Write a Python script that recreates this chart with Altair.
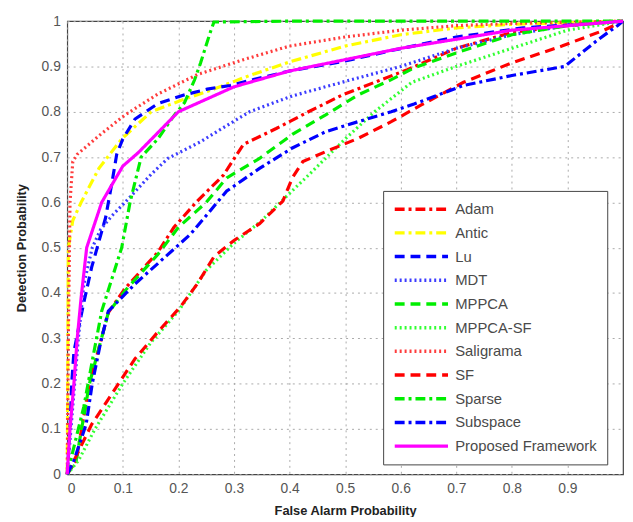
import altair as alt
import pandas as pd

series_names = ["Adam", "Antic", "Lu", "MDT", "MPPCA", "MPPCA-SF", "Saligrama",
                "SF", "Sparse", "Subspace", "Proposed Framework"]
series_colors = ["#ff0000", "#ffff00", "#0000ff", "#3c3cff", "#00ee00", "#33ff33",
                 "#ff3c3c", "#ff0000", "#00ee00", "#0000ff", "#ff00ff"]
series_dash = [[10, 4, 3, 4], [10, 4, 3, 4], [10, 6], [2, 3], [10, 6], [2, 3],
               [2, 3], [10, 6], [10, 4, 3, 4], [10, 4, 3, 4], [1, 0]]

adam_x = [0, 0.016, 0.04, 0.074, 0.104, 0.163, 0.192, 0.234, 0.281, 0.317, 0.376, 0.434, 0.495, 0.553, 0.612, 0.7, 0.8, 0.9, 1.0]
adam_y = [0, 0.03, 0.2, 0.357, 0.41, 0.49, 0.545, 0.603, 0.66, 0.728, 0.763, 0.8, 0.837, 0.865, 0.893, 0.94, 0.975, 0.99, 1.0]

antic_x = [0, 0.002, 0.01, 0.025, 0.057, 0.098, 0.151, 0.211, 0.264, 0.328, 0.4, 0.5, 0.6, 0.7, 0.8, 1.0]
antic_y = [0, 0.5, 0.56, 0.6, 0.675, 0.74, 0.8, 0.828, 0.85, 0.88, 0.91, 0.945, 0.97, 0.985, 0.993, 1.0]

lu_x = [0, 0.005, 0.008, 0.012, 0.02, 0.03, 0.044, 0.069, 0.08, 0.089, 0.1, 0.122, 0.163, 0.21, 0.252, 0.293, 0.335, 0.4, 0.5, 0.583, 0.7, 0.82, 1.0]
lu_y = [0, 0.1, 0.2, 0.27, 0.32, 0.38, 0.457, 0.566, 0.64, 0.706, 0.74, 0.784, 0.818, 0.837, 0.85, 0.858, 0.871, 0.89, 0.912, 0.935, 0.965, 0.985, 1.0]

mdt_x = [0, 0.01, 0.02, 0.03, 0.045, 0.06, 0.08, 0.104, 0.151, 0.181, 0.24, 0.281, 0.328, 0.405, 0.512, 0.6, 0.7, 0.8, 0.9, 1.0]
mdt_y = [0, 0.15, 0.3, 0.42, 0.5, 0.54, 0.57, 0.6, 0.662, 0.697, 0.734, 0.765, 0.8, 0.835, 0.871, 0.9, 0.94, 0.97, 0.99, 1.0]

mppca_x = [0, 0.016, 0.04, 0.074, 0.104, 0.163, 0.2, 0.25, 0.287, 0.346, 0.405, 0.465, 0.523, 0.583, 0.624, 0.7, 0.8, 0.9, 1.0]
mppca_y = [0, 0.03, 0.2, 0.357, 0.405, 0.485, 0.545, 0.6, 0.654, 0.697, 0.75, 0.793, 0.837, 0.871, 0.897, 0.93, 0.97, 0.99, 1.0]

mppcasf_x = [0, 0.02, 0.05, 0.1, 0.15, 0.2, 0.25, 0.3, 0.35, 0.4, 0.434, 0.5, 0.553, 0.62, 0.7, 0.8, 0.9, 1.0]
mppcasf_y = [0, 0.03, 0.1, 0.2, 0.29, 0.36, 0.45, 0.51, 0.56, 0.62, 0.66, 0.74, 0.8, 0.865, 0.9, 0.94, 0.98, 1.0]

saligrama_x = [0, 0.002, 0.005, 0.01, 0.018, 0.06, 0.104, 0.163, 0.234, 0.317, 0.4, 0.5, 0.6, 0.7, 0.8, 1.0]
saligrama_y = [0, 0.3, 0.6, 0.69, 0.706, 0.75, 0.793, 0.839, 0.882, 0.915, 0.945, 0.965, 0.98, 0.99, 0.995, 1.0]

sf_x = [0, 0.016, 0.044, 0.087, 0.122, 0.163, 0.204, 0.234, 0.264, 0.3, 0.346, 0.388, 0.405, 0.424, 0.465, 0.523, 0.583, 0.637, 0.713, 0.8, 0.89, 0.966, 1.0]
sf_y = [0, 0.04, 0.11, 0.19, 0.255, 0.314, 0.37, 0.42, 0.48, 0.516, 0.553, 0.603, 0.654, 0.69, 0.712, 0.741, 0.778, 0.815, 0.865, 0.908, 0.945, 0.98, 1.0]

sparse_x = [0, 0.01, 0.03, 0.045, 0.062, 0.08, 0.098, 0.113, 0.133, 0.163, 0.193, 0.211, 0.229, 0.24, 0.257, 0.264, 0.4, 0.6, 0.8, 1.0]
sparse_y = [0, 0.05, 0.15, 0.25, 0.36, 0.43, 0.5, 0.6, 0.7, 0.74, 0.793, 0.82, 0.87, 0.908, 0.974, 0.998, 1.0, 1.0, 1.0, 1.0]

subspace_x = [0, 0.012, 0.034, 0.045, 0.06, 0.074, 0.122, 0.222, 0.287, 0.346, 0.405, 0.465, 0.523, 0.583, 0.624, 0.713, 0.8, 0.895, 0.956, 0.99, 1.0]
subspace_y = [0, 0.03, 0.11, 0.2, 0.29, 0.36, 0.42, 0.53, 0.625, 0.675, 0.72, 0.756, 0.778, 0.8, 0.817, 0.858, 0.88, 0.9, 0.96, 0.99, 1.0]

proposed_x = [0, 0.005, 0.012, 0.018, 0.025, 0.035, 0.062, 0.1, 0.128, 0.2, 0.3, 0.4, 0.5, 0.6, 0.7, 0.8, 0.9, 1.0]
proposed_y = [0, 0.1, 0.2, 0.3, 0.39, 0.5, 0.6, 0.68, 0.71, 0.8, 0.855, 0.89, 0.915, 0.94, 0.96, 0.98, 0.99, 1.0]

x_ticks = [0, 0.1, 0.2, 0.3, 0.4, 0.5, 0.6, 0.7, 0.8, 0.9]
y_ticks = [0, 0.1, 0.2, 0.3, 0.4, 0.5, 0.6, 0.7, 0.8, 0.9, 1.0]

all_x = [adam_x, antic_x, lu_x, mdt_x, mppca_x, mppcasf_x, saligrama_x, sf_x, sparse_x, subspace_x, proposed_x]
all_y = [adam_y, antic_y, lu_y, mdt_y, mppca_y, mppcasf_y, saligrama_y, sf_y, sparse_y, subspace_y, proposed_y]

rows = []
for name, xs, ys in zip(series_names, all_x, all_y):
    for i, (xv, yv) in enumerate(zip(xs, ys)):
        rows.append({"method": name, "fa": xv, "det": yv, "idx": i})
df = pd.DataFrame(rows)

FONT = "Liberation Sans"

legend = alt.Legend(
    title=None, orient="none", legendX=320, legendY=172,
    symbolType="M-1,0L7,0", symbolSize=182, symbolStrokeWidth=3.5,
    labelFont=FONT, labelFontSize=15, labelColor="#4a4a4a", labelOffset=46,
    padding=10, rowPadding=7, fillColor="white", strokeColor="#444444",
    labelLimit=300,
)

chart = alt.Chart(df).mark_line(strokeWidth=3.2).encode(
    x=alt.X("fa:Q", scale=alt.Scale(domain=[0, 1], nice=False),
            axis=alt.Axis(title="False Alarm Probability", values=x_ticks, format="g",
                          grid=True)),
    y=alt.Y("det:Q", scale=alt.Scale(domain=[0, 1], nice=False),
            axis=alt.Axis(title="Detection Probability", values=y_ticks, format="g",
                          grid=True)),
    color=alt.Color("method:N", scale=alt.Scale(domain=series_names, range=series_colors),
                    legend=legend, sort=series_names),
    strokeDash=alt.StrokeDash("method:N", scale=alt.Scale(domain=series_names, range=series_dash),
                              legend=legend, sort=series_names),
    order=alt.Order("idx:Q"),
).properties(
    width=563, height=459,
    autosize=alt.AutoSizeParams(type="none"),
    padding={"left": 60, "top": 10, "right": 2, "bottom": 40},
).configure_view(
    stroke="#444444", strokeWidth=1.2
).configure_axis(
    labelFont=FONT, labelFontSize=14, labelColor="#555555",
    titleFont=FONT, titleFontSize=13, titleFontWeight="bold", titleColor="#222222",
    gridColor="#aaaaaa", gridDash=[2, 4], gridWidth=1,
    domain=False, ticks=False, labelPadding=7,
).configure_axisX(titlePadding=10).configure_axisY(titlePadding=13)

chart.save("out.html", embed_options={"renderer": "svg", "actions": False})
